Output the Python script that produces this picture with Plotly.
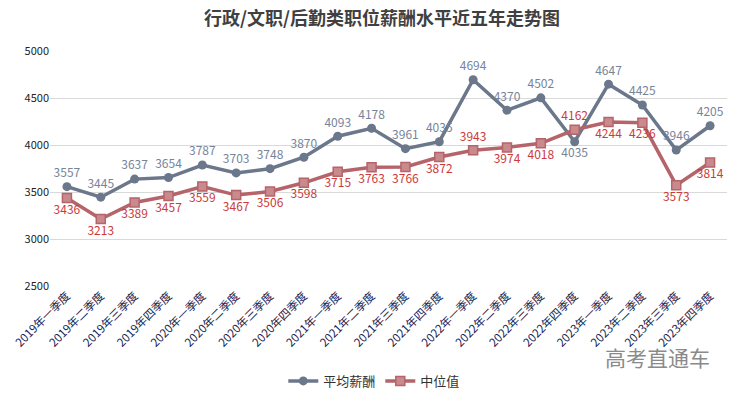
import plotly.graph_objects as go

quarters = ["2019年一季度", "2019年二季度", "2019年三季度", "2019年四季度",
            "2020年一季度", "2020年二季度", "2020年三季度", "2020年四季度",
            "2021年一季度", "2021年二季度", "2021年三季度", "2021年四季度",
            "2022年一季度", "2022年二季度", "2022年三季度", "2022年四季度",
            "2023年一季度", "2023年二季度", "2023年三季度", "2023年四季度"]
avg_salary = [3557, 3445, 3637, 3654, 3787, 3703, 3748, 3870, 4093, 4178,
              3961, 4035, 4694, 4370, 4502, 4035, 4647, 4425, 3946, 4205]
median_salary = [3436, 3213, 3389, 3457, 3559, 3467, 3506, 3598, 3715, 3763,
                 3766, 3872, 3943, 3974, 4018, 4162, 4244, 4236, 3573, 3814]
y_ticks = [2500, 3000, 3500, 4000, 4500, 5000]

avg_color = "#6b778a"
med_color = "#b5646a"
avg_label = "#76849a"
med_label = "#cc3a3a"

font_fam = "Noto Sans CJK SC, sans-serif"

fig = go.Figure()
fig.add_trace(go.Scatter(
    x=quarters, y=avg_salary, name="平均薪酬", mode="lines+markers+text",
    line=dict(color=avg_color, width=3.5),
    marker=dict(symbol="circle", size=9, color=avg_color),
    text=[str(v) for v in avg_salary],
    textposition=["top center"] * 15 + ["bottom center"] + ["top center"] * 4,
    textfont=dict(color=avg_label, size=12, family=font_fam),
    cliponaxis=False,
))
med_pos = ["bottom center"] * 20
for i in (12, 15):
    med_pos[i] = "top center"
fig.add_trace(go.Scatter(
    x=quarters, y=median_salary, name="中位值", mode="lines+markers+text",
    line=dict(color=med_color, width=3.5),
    marker=dict(symbol="square", size=9, color="#c98a8e",
                line=dict(color=med_color, width=1.5)),
    text=[str(v) for v in median_salary],
    textposition=med_pos,
    textfont=dict(color=med_label, size=12, family=font_fam),
    cliponaxis=False,
))

fig.update_layout(
    width=734, height=389,
    margin=dict(l=42, r=15, t=43, b=111, autoexpand=False),
    paper_bgcolor="white", plot_bgcolor="white",
    title=dict(text="<b>行政/文职/后勤类职位薪酬水平近五年走势图</b>", x=0.5095, xanchor="center",
               y=1.0, yanchor="top", yref="container", pad=dict(t=4, b=0),
               font=dict(size=18, color="#404040", family=font_fam)),
    font=dict(family=font_fam),
    showlegend=True,
    legend=dict(orientation="h", x=0.479, xanchor="center", y=-0.404, yanchor="middle",
                font=dict(size=13, color="#333333", family=font_fam)),
    xaxis=dict(type="category", range=[-0.5, 19.5], tickangle=-45, showgrid=False,
               showline=False, ticks="", automargin=False,
               tickfont=dict(size=11.5, color="#1c2450", family=font_fam)),
    yaxis=dict(range=[2500, 5000], tickvals=y_ticks, showgrid=True, automargin=False,
               gridcolor="#d9d9d9", gridwidth=1, zeroline=False, showline=False,
               ticks="", tickfont=dict(size=11, color="#222222", family=font_fam)),
)
fig.add_annotation(text="高考直通车", xref="paper", yref="paper", x=0.978, y=-0.3,
                   xanchor="right", yanchor="middle", showarrow=False,
                   font=dict(size=21, color="#8a8a8a", family=font_fam))

fig.write_html("out.html")
